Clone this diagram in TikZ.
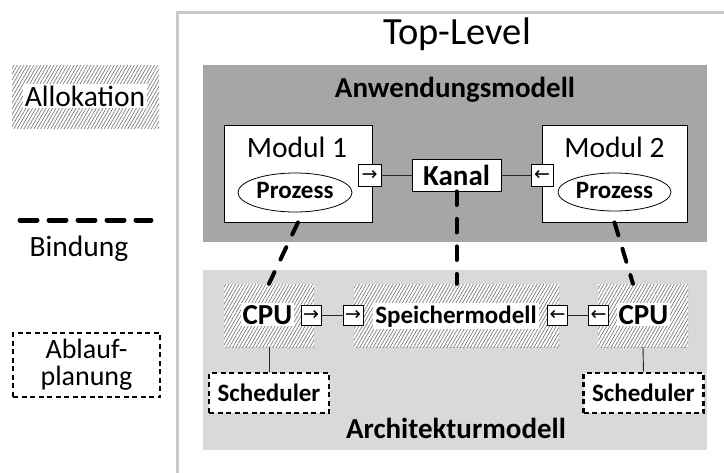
\documentclass[tikz,border=0pt]{standalone}
\usepackage{fontspec}
\setmainfont{Carlito}
\newfontfamily\arrowfont{DejaVu Sans}
\usetikzlibrary{patterns.meta,shapes.geometric,calc}
\definecolor{appgrey}{HTML}{A6A6A6}
\definecolor{archgrey}{HTML}{D9D9D9}
\definecolor{framegrey}{HTML}{C8C8C8}
\definecolor{hatchgrey}{HTML}{6E6E6E}
\tikzset{
  regtxt/.style={font=\fontsize{29.5}{32}\selectfont},
  boldtxt/.style={font=\fontsize{29}{32}\selectfont\bfseries},
  smallbold/.style={font=\fontsize{25}{27}\selectfont\bfseries},
  modulbox/.style={draw=black, fill=white, line width=0.8pt, inner sep=0pt},
  portbox/.style={draw=black, fill=white, line width=0.8pt, inner sep=0pt,
    minimum width=20pt, minimum height=20pt, font=\arrowfont\fontsize{19}{19}\selectfont},
  hatchbox/.style={inner sep=0pt, preaction={fill=white},
    pattern={Lines[angle=60,distance=2.9pt,line width=0.6pt]}, pattern color=hatchgrey},
  whitelabel/.style={fill=white, inner sep=2pt},
  conn/.style={draw=black!85, line width=0.9pt},
  bindline/.style={line width=4pt, dash pattern=on 13.5pt off 14pt, line cap=round},
  legendbind/.style={line width=5pt, dash pattern=on 17pt off 12pt, line cap=round},
  schedbox/.style={draw=black, fill=white, line width=2.8pt, dash pattern=on 5pt off 3.5pt,
    inner sep=0pt, minimum width=120pt, minimum height=40pt},
}
\begin{document}
\begin{tikzpicture}[x=1pt,y=-1pt]
\useasboundingbox (0,0) rectangle (724,472);
% outer frame
\coordinate (fr1) at (740,12);
\coordinate (fr2) at (177,12);
\coordinate (fr3) at (177,490);
\draw[framegrey, line width=3pt] (fr1) -- (fr2) -- (fr3);
\node[font=\fontsize{38.5}{40}\selectfont, anchor=base] (toplevel) at (457,44) {Top-Level};

% Anwendungsmodell
\node[fill=appgrey, inner sep=0pt, minimum width=504pt, minimum height=177pt] (app) at (455,153.5) {};
\node[boldtxt, anchor=base] (apptitle) at (455,97) {Anwendungsmodell};

% Architekturmodell
\node[fill=archgrey, inner sep=0pt, minimum width=504pt, minimum height=180pt] (arch) at (455,360) {};
\node[boldtxt, anchor=base] (archtitle) at (456,438) {Architekturmodell};

% Modul 1
\node[modulbox, minimum width=148pt, minimum height=97pt] (m1) at (298,173.5) {};
\node[regtxt, anchor=base] (m1t) at (297,157) {Modul 1};
\node[draw=black, fill=white, ellipse, line width=0.8pt, inner sep=0pt, minimum width=114pt, minimum height=39pt] (e1) at (295,192.5) {};
\node[smallbold, anchor=base] (e1t) at (295,198) {Prozess};

% Modul 2
\node[modulbox, minimum width=145pt, minimum height=97pt] (m2) at (614.5,173.5) {};
\node[regtxt, anchor=base] (m2t) at (614.5,157) {Modul 2};
\node[draw=black, fill=white, ellipse, line width=0.8pt, inner sep=0pt, minimum width=113pt, minimum height=38pt] (e2) at (614.5,192) {};
\node[smallbold, anchor=base] (e2t) at (614.5,198) {Prozess};

% Kanal and ports
\node[portbox, minimum width=23pt, minimum height=22pt] (p1) at (369.5,175) {→};
\node[modulbox, boldtxt, minimum width=89pt, minimum height=32pt] (kanal) at (456.5,175) {Kanal};
\node[portbox, minimum width=22pt, minimum height=22pt] (p2) at (542,175) {←};
\draw[conn] (p1) -- (kanal);
\draw[conn] (kanal) -- (p2);

% Architecture row
\node[hatchbox, minimum width=90pt, minimum height=63pt] (cpu1) at (269,315.5) {};
\node[whitelabel, boldtxt, anchor=base] (cpu1t) at (267.5,324) {CPU};
\node[hatchbox, minimum width=205pt, minimum height=63pt] (sp) at (456.5,315.5) {};
\node[whitelabel, smallbold, anchor=base] (spt) at (456,323) {Speichermodell};
\node[hatchbox, minimum width=90pt, minimum height=63pt] (cpu2) at (643,315.5) {};
\node[whitelabel, boldtxt, anchor=base] (cpu2t) at (643.5,324) {CPU};

\node[portbox] (c1p) at (311,315) {→};
\node[portbox] (spl) at (353,315) {→};
\node[portbox] (spr) at (557.5,315) {←};
\node[portbox] (c2p) at (598.5,315) {←};
\draw[conn] (c1p) -- (spl);
\draw[conn] (spr) -- (c2p);

% Schedulers
\node[schedbox, smallbold] (s1) at (269,393) {Scheduler};
\node[schedbox, smallbold] (s2) at (643.5,393) {Scheduler};
\draw[conn] (cpu1.south) -- (s1.north);
\draw[conn] (cpu2.south) -- (s2.north);

% Bindings
\coordinate (b3) at ($(cpu2.north)+(-10,0)$);
\draw[bindline] (m1.south) -- (cpu1.north);
\draw[bindline] (kanal.south) -- (sp.north);
\draw[bindline] (m2.south) -- (b3);

% Legend
\node[hatchbox, minimum width=147pt, minimum height=63pt] (lalloc) at (85.5,96.5) {};
\node[whitelabel, regtxt, anchor=base] (lalloct) at (85,106) {Allokation};
\coordinate (lb1) at (20,220);
\coordinate (lb2) at (151,220);
\draw[legendbind] (lb1) -- (lb2);
\node[regtxt, anchor=base] (lbind) at (79,256) {Bindung};
\node[schedbox, font=\fontsize{28}{27}\selectfont, align=center, minimum width=147pt, minimum height=64pt] (lsched) at (86.5,365) {Ablauf-\\planung};
\end{tikzpicture}
\end{document}
